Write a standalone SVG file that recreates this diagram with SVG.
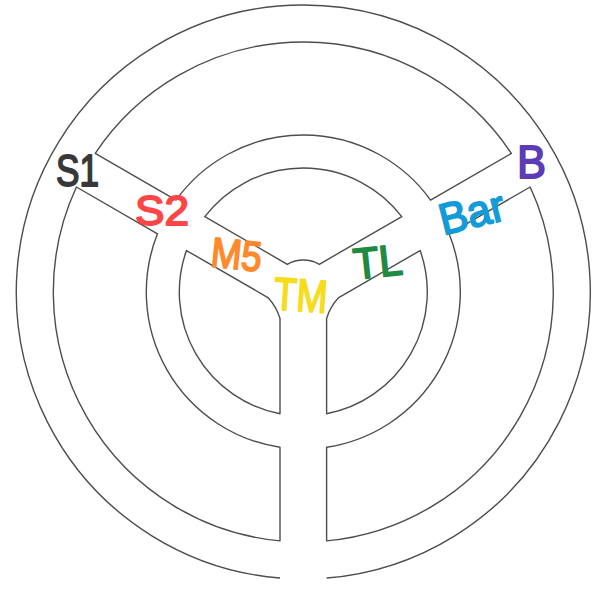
<svg xmlns="http://www.w3.org/2000/svg" width="605" height="595" viewBox="0 0 605 595">
<style>
.w{fill:none;stroke:#4d4d4d;stroke-width:1.4;stroke-linejoin:round}
.lb{font-family:"Liberation Sans","DejaVu Sans",sans-serif;font-weight:normal;stroke-width:1.8;stroke-linejoin:round}
</style>
<rect width="605" height="595" fill="#ffffff"/>
<g id="walls">
<path id="outer" class="w" d="M 280 578.05 A 287 287 0 1 1 326.6 578.05"/>
<path id="block-top" class="w" d="M 95.24 153.4 A 250 250 0 0 1 511.36 153.4 L 430.55 200.05 A 157 157 0 0 0 176.05 200.05 Z"/>
<path id="block-left" class="w" d="M 76.43 187 L 157.49 233.8 A 157 157 0 0 0 280 447.26 L 280 540.91 A 250 250 0 0 1 76.43 187 Z"/>
<path id="block-right" class="w" d="M 530.17 187 L 449.11 233.8 A 157 157 0 0 1 326.6 447.26 L 326.6 540.91 A 250 250 0 0 0 530.17 187 Z"/>
<path id="core-top" class="w" d="M 204.81 216.66 L 287.3 264.29 A 32 32 0 0 1 319.3 264.29 L 401.79 216.66 A 124 124 0 0 0 204.81 216.66 Z"/>
<path id="core-left" class="w" d="M 186.45 250.52 L 267.88 297.53 A 52.25 52.25 0 0 1 280 318.53 L 280 413.79 A 124 124 0 0 1 186.45 250.52 Z"/>
<path id="core-right" class="w" d="M 420.15 250.52 L 338.72 297.53 A 52.25 52.25 0 0 0 326.6 318.53 L 326.6 413.79 A 124 124 0 0 0 420.15 250.52 Z"/>
</g>
<g id="labels">
<g id="S1"><text class="lb" x="56" y="186" font-size="44" textLength="43" lengthAdjust="spacingAndGlyphs" fill="#383838" stroke="#383838">S1</text></g>
<g id="S2"><text class="lb" x="135" y="225" font-size="42" textLength="54" lengthAdjust="spacingAndGlyphs" fill="#ff4646" stroke="#ff4646">S2</text></g>
<g id="M5"><text class="lb" x="211" y="269" font-size="42" textLength="51" lengthAdjust="spacingAndGlyphs" fill="#ff8a2e" stroke="#ff8a2e" transform="rotate(6 236 255)">M5</text></g>
<g id="TM"><text class="lb" x="274" y="311" font-size="46" textLength="54" lengthAdjust="spacingAndGlyphs" fill="#f7dc1c" stroke="#f7dc1c" transform="rotate(4 300 292)">TM</text></g>
<g id="TL"><text class="lb" x="353" y="277" font-size="44" textLength="49" lengthAdjust="spacingAndGlyphs" fill="#1f8a42" stroke="#1f8a42" transform="rotate(-6 378 260)">TL</text></g>
<g id="Bar"><text class="lb" x="438" y="228" font-size="44" textLength="66" lengthAdjust="spacingAndGlyphs" fill="#139bd8" stroke="#139bd8" transform="rotate(-14 470 210)">Bar</text></g>
<g id="B"><text class="lb" x="517" y="178" font-size="46" textLength="29" lengthAdjust="spacingAndGlyphs" fill="#5b3cb5" stroke="#5b3cb5">B</text></g>
</g>
</svg>
